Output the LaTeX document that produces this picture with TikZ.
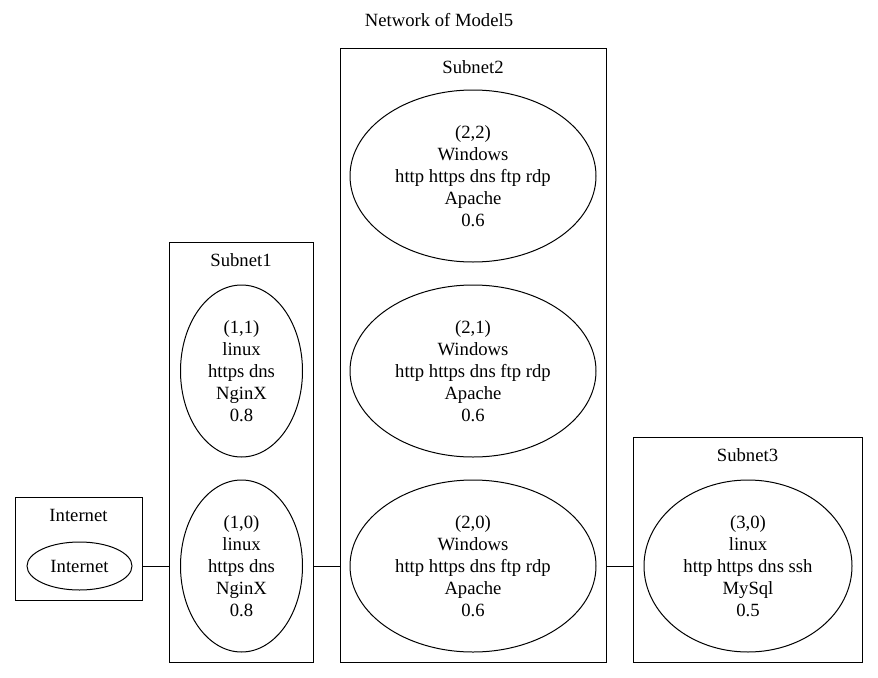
\documentclass[tikz,border=0pt]{standalone}
\usepackage{fontspec}
\newfontfamily\tfont{LiberationSerif-Regular.ttf}
\usetikzlibrary{shapes.geometric}
\begin{document}
\begin{tikzpicture}[x=0.75pt,y=-0.75pt,
  every node/.style={font=\tfont\fontsize{14}{16.5}\selectfont},
  box/.style={draw,line width=0.75pt,rectangle,inner sep=0pt},
  host/.style={draw,line width=0.75pt,ellipse,inner sep=0pt,align=center},
  lbl/.style={inner sep=0pt},
  link/.style={line width=0.75pt}]
\useasboundingbox (0,0) rectangle (878,678);
\node[lbl] (title) at (439,20) {Network of Model5};
% clusters
\node[box,minimum width=95.25pt,minimum height=77.25pt] (inetbox) at (78.5,548.5) {};
\node[box,minimum width=108pt,minimum height=315pt] (s1box) at (241,452) {};
\node[box,minimum width=199.5pt,minimum height=460.5pt] (s2box) at (473,355) {};
\node[box,minimum width=171.75pt,minimum height=168.75pt] (s3box) at (747.5,549.5) {};
\node[lbl] (inetlbl) at (78.5,515) {Internet};
\node[lbl] (s1lbl) at (241,260) {Subnet1};
\node[lbl] (s2lbl) at (473,67) {Subnet2};
\node[lbl] (s3lbl) at (747.5,455) {Subnet3};
% hosts
\node[host,minimum width=78.75pt,minimum height=36pt] (inet) at (79.5,566) {Internet};
\node[host,minimum width=91.5pt,minimum height=129pt] (h11) at (241.5,371) {(1,1)\\linux\\https dns\\NginX\\0.8};
\node[host,minimum width=91.5pt,minimum height=129pt] (h10) at (241.5,566) {(1,0)\\linux\\https dns\\NginX\\0.8};
\node[host,minimum width=184.5pt,minimum height=129pt] (h22) at (473,176) {(2,2)\\Windows\\http https dns ftp rdp\\Apache\\0.6};
\node[host,minimum width=184.5pt,minimum height=129pt] (h21) at (473,371) {(2,1)\\Windows\\http https dns ftp rdp\\Apache\\0.6};
\node[host,minimum width=184.5pt,minimum height=129pt] (h20) at (473,566) {(2,0)\\Windows\\http https dns ftp rdp\\Apache\\0.6};
\node[host,minimum width=156pt,minimum height=129pt] (h30) at (748,566) {(3,0)\\linux\\http https dns ssh\\MySql\\0.5};
% links between clusters
\draw[link] (inetbox.east |- inet.center) -- (s1box.west |- inet.center);
\draw[link] (s1box.east |- h10.center) -- (s2box.west |- h10.center);
\draw[link] (s2box.east |- h20.center) -- (s3box.west |- h20.center);
\end{tikzpicture}
\end{document}
